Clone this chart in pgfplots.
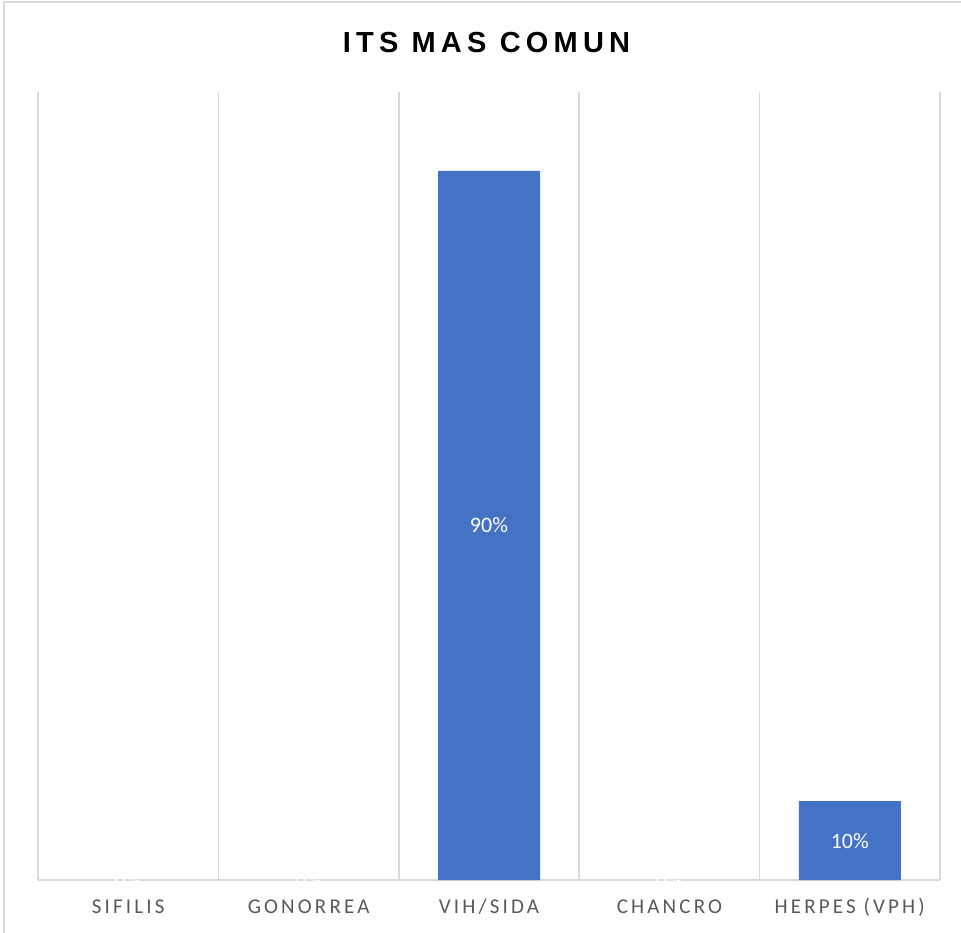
\documentclass[border=0pt]{standalone}
\usepackage{fontspec}
\setmainfont{Carlito}
\newfontfamily\titlefont[LetterSpace=18]{Liberation Sans}
\newfontfamily\lblfont[LetterSpace=15]{Carlito}
\usepackage{pgfplots}
\pgfplotsset{compat=1.18}
\definecolor{gridgray}{HTML}{D9D9D9}
\definecolor{barblue}{HTML}{4472C4}
\definecolor{lblgray}{HTML}{595959}
\begin{document}
\begin{tikzpicture}[x=1pt,y=1pt]
\path[use as bounding box] (-38,-52) rectangle (923,880);
\draw[gridgray, line width=1.2pt] (-34,-70) rectangle (940,878);
\begin{axis}[
  at={(0,0)}, anchor=south west,
  scale only axis, width=902pt, height=788pt,
  xmin=-0.5, xmax=4.5, ymin=0, ymax=1,
  hide y axis,
  axis x line*=bottom,
  x axis line style={draw=gridgray, line width=1.5pt, -},
  xtick={0,1,2,3,4},
  xticklabels={SIFILIS,GONORREA,VIH/SIDA,CHANCRO,HERPES (VPH)},
  minor xtick={-0.5,0.5,1.5,2.5,3.5,4.5},
  xminorgrids=true,
  minor x grid style={draw=gridgray, line width=1.5pt},
  major tick length=0pt, minor tick length=0pt,
  xticklabel style={anchor=base, yshift=-33pt, text=lblgray, font=\lblfont\fontsize{21}{25}\selectfont},
  clip=false,
]
\addplot[ybar, bar width=102pt, fill=barblue, draw=none, bar shift=0pt,
  y filter/.expression={y==0 ? nan : y}, unbounded coords=discard]
  coordinates {(0,0) (1,0) (2,0.90) (3,0) (4,0.10)};
\addplot[draw=none, mark=none, nodes near coords, point meta=explicit symbolic,
  every node near coord/.style={anchor=center, text=white, font=\fontsize{22}{26}\selectfont}]
  coordinates {(0,0) [0\%] (1,0) [0\%] (2,0.45) [90\%] (3,0) [0\%] (4,0.05) [10\%]};
\end{axis}
\node[anchor=base, font=\titlefont\bfseries\fontsize{29}{34}\selectfont] at (448.5,827) {ITS MAS COMUN};
\end{tikzpicture}
\end{document}
